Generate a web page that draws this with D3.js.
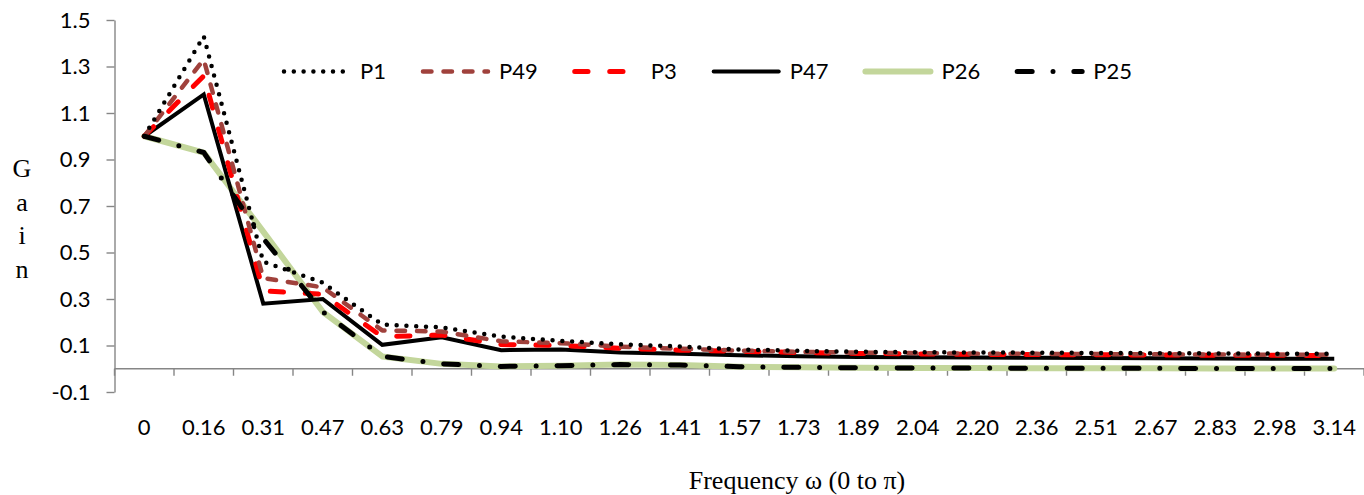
<!DOCTYPE html>
<html>
<head>
<meta charset="utf-8">
<script src="https://cdn.jsdelivr.net/npm/d3@7"></script>
<style>
  html, body { margin: 0; padding: 0; background: #fff; }
  svg { display: block; }
</style>
</head>
<body>
<svg id="chart" width="1364" height="495"></svg>
<script>
// Frequency points ω from 0 to π (category axis)
const categories = ["0", "0.16", "0.31", "0.47", "0.63", "0.79", "0.94", "1.10", "1.26", "1.41",
  "1.57", "1.73", "1.89", "2.04", "2.20", "2.36", "2.51", "2.67", "2.83", "2.98", "3.14"];

const yTicks = [-0.1, 0.1, 0.3, 0.5, 0.7, 0.9, 1.1, 1.3, 1.5];
const yTickLabels = ["-0.1", "0.1", "0.3", "0.5", "0.7", "0.9", "1.1", "1.3", "1.5"];

// Gain of each filter at every frequency
const P1  = [1.00, 1.43, 0.46, 0.37, 0.19, 0.178, 0.138, 0.120, 0.105, 0.096, 0.083, 0.077, 0.073, 0.071, 0.070, 0.069, 0.068, 0.067, 0.066, 0.065, 0.064];
const P49 = [1.00, 1.33, 0.39, 0.35, 0.165, 0.160, 0.118, 0.110, 0.095, 0.086, 0.078, 0.073, 0.069, 0.067, 0.065, 0.064, 0.063, 0.062, 0.061, 0.060, 0.060];
const P3  = [1.00, 1.26, 0.335, 0.32, 0.138, 0.145, 0.104, 0.100, 0.088, 0.080, 0.075, 0.070, 0.066, 0.064, 0.062, 0.061, 0.060, 0.059, 0.058, 0.058, 0.057];
const P47 = [1.00, 1.18, 0.28, 0.30, 0.103, 0.135, 0.080, 0.083, 0.070, 0.065, 0.058, 0.054, 0.051, 0.049, 0.048, 0.047, 0.046, 0.045, 0.044, 0.043, 0.043];
const P26 = [1.00, 0.93, 0.59, 0.245, 0.053, 0.021, 0.010, 0.013, 0.018, 0.016, 0.009, 0.006, 0.004, 0.003, 0.003, 0.002, 0.002, 0.002, 0.001, 0.001, 0.001];
const P25 = [1.00, 0.93, 0.56, 0.245, 0.053, 0.021, 0.010, 0.013, 0.018, 0.016, 0.009, 0.006, 0.004, 0.003, 0.003, 0.002, 0.002, 0.002, 0.001, 0.001, 0.001];

const legendOrder = ["P1", "P49", "P3", "P47", "P26", "P25"];
const drawOrder = ["P26", "P47", "P3", "P49", "P1", "P25"];
const seriesData = { P1, P49, P3, P47, P26, P25 };

const styles = {
  P1:  { color: "#000000", width: 4.5, dash: "0 9.8",  cap: "round", join: "round" },
  P49: { color: "#a0413c", width: 4.5, dash: "8.5 12", cap: "round", join: "round" },
  P3:  { color: "#ff0000", width: 5,   dash: "13.3 21.7", cap: "round", join: "round" },
  P47: { color: "#000000", width: 4,   dash: null, cap: "butt", join: "miter" },
  P26: { color: "#c3d69b", width: 6,   dash: null, cap: "round", join: "round" },
  P25: { color: "#000000", width: 5,   dash: "15 20.85 0 20.85", cap: "round", join: "round" }
};

const svg = d3.select("#chart");
const axisColor = "#868686";
const tickFont = "Lato, 'Open Sans', sans-serif";
const serifFont = "'Liberation Serif', 'DejaVu Serif', serif";

const plot = { left: 114.5, right: 1364, top: 20, bottom: 392 };

const x = d3.scaleBand().domain(categories).range([plot.left, plot.right]).padding(0);
const y = d3.scaleLinear().domain([-0.1, 1.5]).range([plot.bottom, plot.top]);
const cx = c => x(c) + x.bandwidth() / 2;

// Value axis
const yAxis = svg.append("g")
  .attr("transform", `translate(${plot.left},0)`)
  .call(d3.axisLeft(y).tickValues(yTicks)
    .tickFormat((d, i) => yTickLabels[i])
    .tickSize(8).tickSizeOuter(0).tickPadding(16));
yAxis.select(".domain").attr("stroke", axisColor).attr("stroke-width", 1.4);
yAxis.selectAll(".tick line").attr("stroke", axisColor).attr("stroke-width", 1.4);
yAxis.selectAll(".tick text")
  .attr("fill", "#000").style("font-family", tickFont).style("font-size", "22px");

// Category axis crossing at zero
const y0 = y(0);
const boundaries = d3.range(categories.length + 1).map(i => plot.left + i * x.step());
const xAxis = svg.append("g");
xAxis.append("line")
  .attr("x1", plot.left).attr("x2", plot.right)
  .attr("y1", y0).attr("y2", y0)
  .attr("stroke", axisColor).attr("stroke-width", 1.4);
xAxis.selectAll("line.tick").data(boundaries).join("line")
  .attr("class", "tick")
  .attr("x1", d => d).attr("x2", d => d)
  .attr("y1", y0).attr("y2", y0 + 7)
  .attr("stroke", axisColor).attr("stroke-width", 1.4);

// Category labels along the bottom of the plot
svg.append("g").selectAll("text").data(categories).join("text")
  .attr("x", d => cx(d))
  .attr("y", 435)
  .attr("text-anchor", "middle")
  .style("font-family", tickFont).style("font-size", "22px")
  .text(d => d);

// Series lines
const line = d3.line()
  .x((d, i) => cx(categories[i]))
  .y(d => y(d));

svg.append("g").selectAll("path").data(drawOrder).join("path")
  .attr("d", k => line(seriesData[k]))
  .attr("fill", "none")
  .attr("stroke", k => styles[k].color)
  .attr("stroke-width", k => styles[k].width)
  .attr("stroke-dasharray", k => styles[k].dash)
  .attr("stroke-linecap", k => styles[k].cap)
  .attr("stroke-linejoin", k => styles[k].join);

// Legend laid out left to right, each entry spaced by its label width
const legend = svg.append("g");
let lx = 284;
const legendY = 71.5;
legendOrder.forEach(k => {
  const s = styles[k];
  legend.append("line")
    .attr("x1", lx).attr("x2", lx + 65)
    .attr("y1", legendY).attr("y2", legendY)
    .attr("stroke", s.color).attr("stroke-width", s.width)
    .attr("stroke-dasharray", s.dash)
    .attr("stroke-linecap", s.cap === "butt" ? "round" : s.cap);
  const t = legend.append("text")
    .attr("x", lx + 76).attr("y", 79)
    .style("font-family", tickFont).style("font-size", "22px")
    .text(k);
  lx += 76 + t.node().getComputedTextLength() + 37;
});

// Axis titles
const gainLetters = ["G", "a", "i", "n"];
svg.append("g").selectAll("text").data(gainLetters).join("text")
  .attr("x", 22)
  .attr("y", (d, i) => 177 + i * 33.5)
  .attr("text-anchor", "middle")
  .style("font-family", serifFont).style("font-size", "26px")
  .text(d => d);

svg.append("text")
  .attr("x", 797).attr("y", 489)
  .attr("text-anchor", "middle")
  .style("font-family", serifFont).style("font-size", "26px")
  .text("Frequency ω (0 to π)");
</script>
</body>
</html>
